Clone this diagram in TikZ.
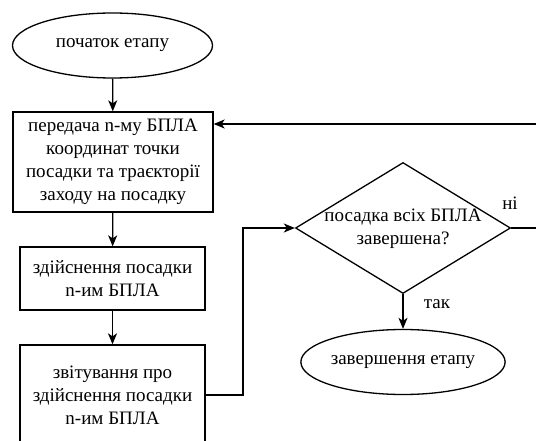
\documentclass[tikz,border=0pt]{standalone}
\usepackage{fontspec}
\setmainfont{Liberation Serif}
\newfontfamily\refserif{Liberation Serif}
\usetikzlibrary{shapes.geometric,arrows.meta}
\begin{document}
\begin{tikzpicture}[x=1pt,y=-1pt,
  txt/.style={font=\refserif\fontsize{19}{23}\selectfont},
  term/.style={draw, line width=1.3pt, ellipse, minimum width=200pt, minimum height=65pt, inner sep=0pt, txt},
  proc/.style={draw, line width=1.3pt, rectangle, align=center, inner sep=0pt, txt},
  dec/.style={draw, line width=1.3pt, diamond, minimum width=215pt, minimum height=131pt, inner sep=0pt},
  arr/.style={draw, line width=1.3pt, -{Stealth[length=11pt,width=9pt,inset=3pt]}},
  lbl/.style={txt}]
\useasboundingbox (0,0) rectangle (536,441);
\node[term] (s) at (112.5,45.5) {початок етапу};
\node[proc, minimum width=200pt, minimum height=100pt] (b1) at (113,162) {передача n-му БПЛА\\координат точки\\посадки та траєкторії\\заходу на посадку};
\node[proc, minimum width=185pt, minimum height=63pt] (b2) at (112.5,278.5) {здійснення посадки\\n-им БПЛА};
\node[proc, minimum width=185pt, minimum height=100pt] (b3) at (112.5,395) {звітування про\\здійснення посадки\\n-им БПЛА};
\node[dec] (d) at (403,228) {};
\node[txt, align=center] (dt) at (403,229) {посадка всіх БПЛА\\завершена?};
\node[term] (e) at (403,362) {завершення етапу};
\node[lbl] (no) at (510,203) {ні};
\node[lbl] (yes) at (437,304) {так};
\coordinate (c1) at (243,395);
\coordinate (c2) at (546,228);
\coordinate (c3) at (546,124);
\draw[arr] (s) -- (b1);
\draw[arr] (b1) -- (b2);
\draw[arr] (b2) -- (b3);
\draw[arr] (b3.east) -- (c1) |- (d.west);
\draw[arr] (d.east) -- (c2) -- (c3) -- (b1.east |- c3);
\draw[arr] (d.south) -- (e.north);
\end{tikzpicture}
\end{document}
